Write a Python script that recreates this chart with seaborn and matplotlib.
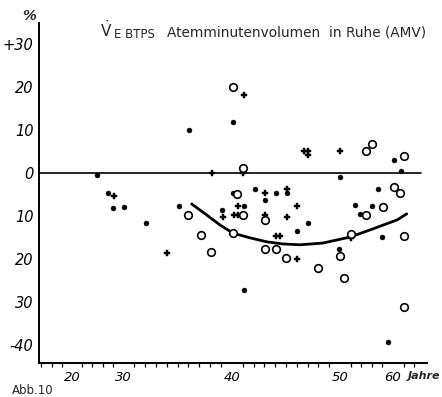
import numpy as np
import pandas as pd
import matplotlib
matplotlib.use("Agg")
import matplotlib.pyplot as plt
import seaborn as sns

# ---- data (age in years, deviation in %) ----
dot_age = [24.9, 27.1, 28.0, 30.1, 32.1, 35.1, 36.1, 40.1, 40.1, 42.1, 44.1, 39.1,
           41.1, 43.1, 46.0, 41.1, 60.2, 61.5, 50.0, 57.2, 52.8, 56.0, 53.8, 47.0,
           57.9, 49.9, 59.1, 45.1]
dot_val = [-0.5, -4.7, -8.1, -7.9, -11.6, -7.7, 10.0, 11.9, -4.7, -3.7, -4.7, -8.6,
           -7.7, -6.3, -13.5, -27.2, 3.0, 0.5, -0.9, -3.7, -7.4, -7.7, -9.5, -11.6,
           -14.9, -17.7, -39.3, -4.7]

plus_age = [28.2, 34.0, 38.2, 41.0, 41.1, 39.2, 40.2, 40.6, 40.6, 43.1, 43.1, 45.1,
            45.1, 44.1, 44.4, 46.0, 46.0, 46.7, 47.0, 47.0, 50.0, 52.1]
plus_val = [-5.3, -18.6, 0.0, 0.0, 18.1, -10.2, -9.8, -9.8, -7.7, -4.7, -9.8, -3.7,
            -10.2, -14.7, -14.7, -7.7, -20.0, 5.1, 5.1, 4.2, 5.1, -15.1]

circ_age = [40.1, 41.0, 40.5, 36.0, 41.0, 43.1, 37.2, 40.1, 38.1, 43.1, 44.1, 45.0,
            54.9, 56.0, 62.1, 60.2, 61.3, 58.1, 54.9, 52.1, 62.1, 50.0, 48.0, 50.8, 62.1]
circ_val = [20.0, 1.2, -4.9, -9.8, -9.8, -10.9, -14.4, -14.0, -18.4, -17.7, -17.7, -19.8,
            5.1, 6.7, 4.0, -3.3, -4.7, -7.9, -9.8, -14.2, -14.7, -19.3, -22.1, -24.4, -31.2]

curve_age = [36.3, 37.7, 38.9, 40.1, 41.7, 43.2, 44.7, 46.3, 48.4, 51.9, 56.2, 60.8, 62.6]
curve_val = [-7.2, -9.8, -12.1, -14.0, -15.1, -16.0, -16.5, -16.7, -16.3, -14.9, -13.0,
             -10.9, -9.5]

y_ticks = [30, 20, 10, 0, -10, -20, -30, -40]
y_labels = ["+30", "20", "10", "0", "10", "20", "30", "-40"]
x_ticks = [20, 30, 40, 50, 60]
x_labels = ["20", "30", "40", "50", "60"]

# ---- layout of the printed (non-uniform) age axis ----
AXIS_AGE = [0.0, 20.0, 30.0, 40.0, 50.0, 60.0, 100.0]
AXIS_POS = [-30.0, 72.0, 123.0, 232.0, 340.0, 393.0, 605.0]


def fwd(a):
    return np.interp(np.asarray(a, dtype=float), AXIS_AGE, AXIS_POS)


def inv(p):
    return np.interp(np.asarray(p, dtype=float), AXIS_POS, AXIS_AGE)


# ---- plot ----
sns.set_theme(style="white")
plt.rcParams['font.family'] = ['DejaVu Sans']
plt.rcParams['mathtext.fontset'] = 'dejavusans'

W, H = 442, 397
fig = plt.figure(figsize=(W / 100, H / 100), dpi=100)
ax = fig.add_axes([39 / W, 1 - 363 / H, (427 - 39) / W, (363 - 23) / H])
ax.set_xscale("function", functions=(fwd, inv))

ax.axhline(0, xmin=0, xmax=(421 - 39) / (427 - 39), color="black", lw=1.2, zorder=1)

sns.lineplot(x=curve_age, y=curve_val, color="black", lw=2.0, ax=ax, sort=True, zorder=2)

sns.scatterplot(x=dot_age, y=dot_val, marker="o", s=13, color="black",
                edgecolor="black", linewidth=0.3, ax=ax, zorder=3)
sns.scatterplot(x=plus_age, y=plus_val, marker="P", s=20, color="black",
                edgecolor="black", linewidth=0.3, ax=ax, zorder=3)
sns.scatterplot(x=circ_age, y=circ_val, marker="o", s=30, facecolor="white",
                edgecolor="black", linewidth=1.2, ax=ax, zorder=4)

ax.set_xlim(inv(39), inv(427))
ax.set_ylim(-44.2, 34.9)

for s in ["top", "right"]:
    ax.spines[s].set_visible(False)
for s in ["left", "bottom"]:
    ax.spines[s].set_color("black")
    ax.spines[s].set_linewidth(1.4)

ax.set_yticks(y_ticks)
ax.set_yticklabels(y_labels, fontsize=10.5, style="italic")
ax.set_xticks(x_ticks)
ax.set_xticklabels(x_labels, fontsize=9.5, style="italic")
minor = list(range(14, 30, 2)) + list(range(31, 50)) + list(range(52, 66, 2))
ax.set_xticks(minor, minor=True)
ax.tick_params(axis="y", which="major", direction="out", length=3, width=1.2,
               color="black", pad=1, labelcolor="black")
ax.tick_params(axis="x", which="major", direction="out", length=3.5, width=1.0,
               color="black", pad=2, labelcolor="black")
ax.tick_params(axis="x", which="minor", direction="out", length=3, width=0.9,
               color="black", bottom=True)
ax.set_xlabel("")
ax.set_ylabel("")

fig.text(22 / W, 1 - 16 / H, "%", fontsize=10, style="italic", weight="bold",
         ha="left", va="center")
fig.text(100 / W, 1 - 30 / H, r"$\dot{\mathrm{V}}$", fontsize=11,
         ha="left", va="center")
fig.text(114 / W, 1 - 35 / H, "E BTPS", fontsize=8.5, ha="left", va="center")
fig.text(167 / W, 1 - 32 / H, "Atemminutenvolumen  in Ruhe (AMV)", fontsize=9.8,
         ha="left", va="center")
fig.text(408 / W, 1 - 376 / H, "Jahre", fontsize=8, style="italic", weight="bold",
         ha="left", va="center")
fig.text(12 / W, 1 - 390 / H, "Abb.10", fontsize=8.5, ha="left", va="center")

fig.savefig("out.png", dpi=100)
